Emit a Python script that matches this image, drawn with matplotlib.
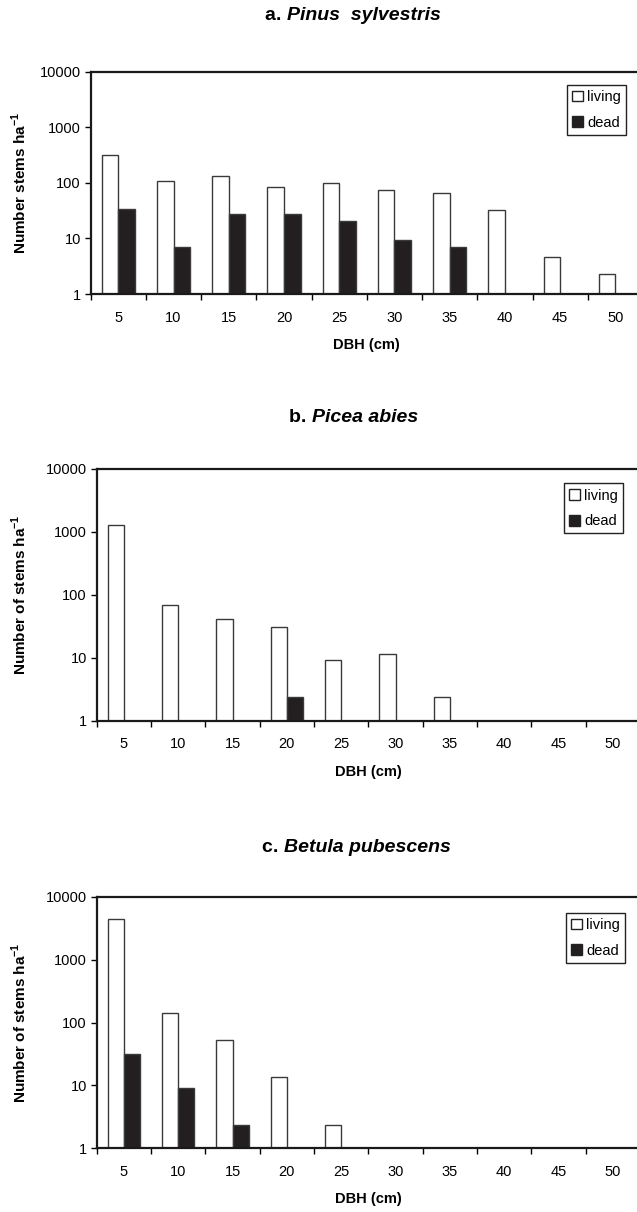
import numpy as np
import matplotlib
matplotlib.use("Agg")
import matplotlib.pyplot as plt
from matplotlib.patches import Patch

plt.rcParams['font.family'] = ['Liberation Sans', 'DejaVu Sans']
plt.rcParams['mathtext.fontset'] = 'custom'
plt.rcParams['mathtext.rm'] = 'Liberation Sans'
plt.rcParams['mathtext.bf'] = 'Liberation Sans:bold'

# DBH classes (cm)
dbh = ['5', '10', '15', '20', '25', '30', '35', '40', '45', '50']

# stems per ha (0 = no bar)
pinus_living = [320, 110, 134, 85, 101, 73, 65, 32, 4.6, 2.25]
pinus_dead = [34.5, 6.9, 28, 28, 20.7, 9.5, 6.9, 0, 0, 0]
picea_living = [1300, 69, 42, 31, 9.1, 11.5, 2.35, 0, 0, 0]
picea_dead = [0, 0, 0, 2.35, 0, 0, 0, 0, 0, 0]
betula_living = [4500, 142, 53, 13.4, 2.35, 0, 0, 0, 0, 0]
betula_dead = [32, 9.1, 2.38, 0, 0, 0, 0, 0, 0, 0]

panels = [
    ('a.', 'Pinus  sylvestris', 'Number stems ha$^{\\mathbf{-1}}$', pinus_living, pinus_dead),
    ('b.', 'Picea abies', 'Number of stems ha$^{\\mathbf{-1}}$', picea_living, picea_dead),
    ('c.', 'Betula pubescens', 'Number of stems ha$^{\\mathbf{-1}}$', betula_living, betula_dead),
]

W, H = 637, 1212
fig = plt.figure(figsize=(W / 100, H / 100), dpi=100)

# axes boxes in pixels: left, right, top, bottom
boxes = [(90.7, 643, 71.7, 294), (96.7, 640, 469, 720.7), (96.7, 640, 896.7, 1148.3)]
# title: left x, centre y
title_pos = [(265, 16), (289, 418), (262, 847)]
legend_corner = [(626, 85), (623, 483.5), (625, 913)]

edge = '#3a3a3a'
dark = '#231f20'
bw = 0.3

renderer = fig.canvas.get_renderer()
for (tag, species, ylab, living, dead), (l, r, t, b), (tx, ty), (lx, ly) in zip(
        panels, boxes, title_pos, legend_corner):
    ax = fig.add_axes([l / W, 1 - b / H, (r - l) / W, (b - t) / H])
    x = np.arange(len(dbh))
    living = np.array(living, dtype=float)
    dead = np.array(dead, dtype=float)
    m1 = living > 0
    m2 = dead > 0
    ax.bar(x[m1] - bw / 2, living[m1] - 1, bottom=1, width=bw, color='white',
           edgecolor=edge, linewidth=1.0, label='living')
    ax.bar(x[m2] + bw / 2, dead[m2] - 1, bottom=1, width=bw, color=dark,
           edgecolor=edge, linewidth=1.0, label='dead')
    ax.set_yscale('log')
    ax.set_ylim(1, 10000)
    ax.set_xlim(-0.5, len(dbh) - 0.5)
    ax.set_yticks([1, 10, 100, 1000, 10000])
    ax.set_yticklabels(['1', '10', '100', '1000', '10000'])
    ax.yaxis.set_minor_locator(matplotlib.ticker.NullLocator())
    ax.set_xticks(np.arange(len(dbh) + 1) - 0.5)
    ax.set_xticklabels([])
    ax.set_xticks(x, minor=True)
    ax.set_xticklabels(dbh, minor=True)
    ax.tick_params(axis='x', which='major', direction='out', length=4, width=1)
    ax.tick_params(axis='x', which='minor', length=0, pad=12, labelsize=10.5)
    ax.tick_params(axis='y', direction='out', length=4, width=1, pad=3, labelsize=10.5)
    for s in ax.spines.values():
        s.set_linewidth(1.6)
        s.set_color('#1a1a1a')

    ax.set_xlabel('DBH (cm)', fontsize=10.5, fontweight='bold', va='center')
    ax.xaxis.set_label_coords(0.5, -51 / (b - t))
    ax.set_ylabel(ylab, fontsize=11, fontweight='bold', va='center')
    ax.yaxis.set_label_coords((19 - l) / (r - l), 0.5)

    handles = [Patch(facecolor='white', edgecolor='#222222', linewidth=1.0),
               Patch(facecolor=dark, edgecolor='#222222', linewidth=1.0)]
    ax.legend(handles, ['living', 'dead'], loc='upper right',
              bbox_to_anchor=((lx - l) / (r - l), 1 - (ly - t) / (b - t)),
              borderaxespad=0, fancybox=False, frameon=True, edgecolor='#222222',
              framealpha=1, fontsize=10.5, handlelength=0.75, handleheight=0.75,
              handletextpad=0.25, labelspacing=0.8, borderpad=0.35)
    ax.get_legend().get_frame().set_linewidth(1.0)

    # title: upright tag followed by italic species name
    t1 = fig.text(tx / W, 1 - ty / H, tag + ' ', fontsize=14, fontweight='bold',
                  va='center', ha='left')
    bb = t1.get_window_extent(renderer=renderer)
    fig.text(bb.x1 / W, 1 - ty / H, species, fontsize=14, fontweight='bold',
             fontstyle='italic', va='center', ha='left')

fig.savefig('out.png', dpi=100)
